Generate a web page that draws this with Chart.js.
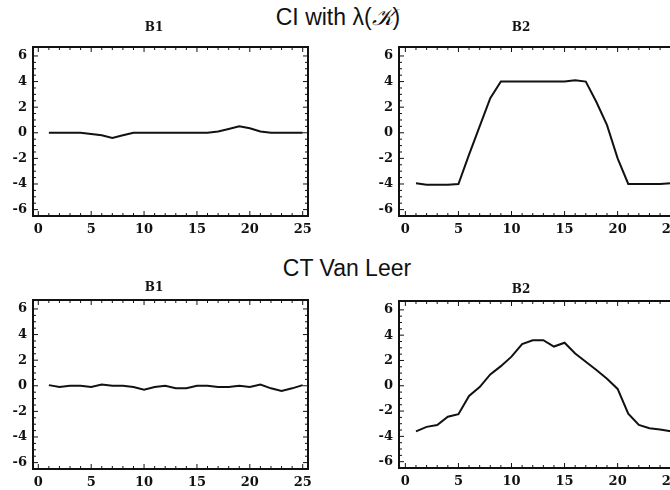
<!DOCTYPE html>
<html>
<head>
<meta charset="utf-8">
<script src="https://cdn.jsdelivr.net/npm/chart.js@4"></script>
<style>
  html, body { margin: 0; padding: 0; background: #fff; width: 670px; height: 490px; overflow: hidden; }
  canvas { position: absolute; }
  .head { position: absolute; transform: translateX(-50%); white-space: nowrap; line-height: 26px;
          font-family: "Liberation Sans", Arial, sans-serif; font-size: 23px; color: #111; }
</style>
</head>
<body>
<div class="head" style="left:338px; top:4px">CI with λ(<span style="font-family:'DejaVu Serif','Liberation Serif',serif;font-style:italic">𝒦</span>)</div>
<div class="head" style="left:347px; top:255px">CT Van Leer</div>

<canvas id="ciB1" width="334" height="220" style="left:0px; top:20px"></canvas>
<canvas id="ciB2" width="336" height="220" style="left:366px; top:20px"></canvas>
<canvas id="vlB1" width="334" height="216" style="left:0px; top:277px"></canvas>
<canvas id="vlB2" width="336" height="213" style="left:366px; top:279px"></canvas>

<script>
// cell index (x) for every sample
const cells = [1, 2, 3, 4, 5, 6, 7, 8, 9, 10, 11, 12, 13, 14, 15, 16, 17, 18, 19, 20, 21, 22, 23, 24, 25];

// CI with lambda(K)
const ciB1 = [0, 0, 0, 0, -0.1, -0.2, -0.4, -0.2, 0, 0, 0, 0, 0, 0, 0, 0, 0.1, 0.3, 0.5, 0.35, 0.1, 0, 0, 0, 0];
const ciB2 = [-3.95, -4.05, -4.05, -4.05, -4.0, -1.7, 0.5, 2.7, 4.0, 4.0, 4.0, 4.0, 4.0, 4.0, 4.0, 4.1, 4.0, 2.4, 0.6, -2.0, -4.0, -4.0, -4.0, -4.0, -3.95];

// CT Van Leer
const vlB1 = [0.05, -0.1, 0, 0, -0.1, 0.1, 0, 0, -0.1, -0.3, -0.1, 0, -0.2, -0.2, 0, 0, -0.1, -0.1, 0, -0.1, 0.1, -0.2, -0.4, -0.2, 0.05];
const vlB2 = [-3.6, -3.25, -3.1, -2.45, -2.25, -0.8, -0.1, 0.9, 1.55, 2.3, 3.3, 3.6, 3.6, 3.1, 3.4, 2.55, 1.9, 1.25, 0.55, -0.25, -2.2, -3.1, -3.35, -3.45, -3.6];

// axis ticks
const xTicks = [0, 5, 10, 15, 20, 25];
const yTicks = [-6, -4, -2, 0, 2, 4, 6];
const xMinor = [0, 1, 2, 3, 4, 5, 6, 7, 8, 9, 10, 11, 12, 13, 14, 15, 16, 17, 18, 19, 20, 21, 22, 23, 24, 25];
const yMinor = [-6, -5.5, -5, -4.5, -4, -3.5, -3, -2.5, -2, -1.5, -1, -0.5, 0, 0.5, 1, 1.5, 2, 2.5, 3, 3.5, 4, 4.5, 5, 5.5, 6];

const serif = "'DejaVu Serif', 'Liberation Serif', serif";
const tickFont = { family: serif, size: 13, weight: 'bold' };

// box frame with little inside tick marks, like the original plots
const framePlugin = {
  id: 'frame',
  afterDatasetsDraw(chart) {
    const { ctx, chartArea: a, scales: { x, y } } = chart;
    ctx.save();
    ctx.strokeStyle = '#111';
    ctx.lineWidth = 1;
    ctx.beginPath();
    xMinor.forEach(v => {
      const px = x.getPixelForValue(v);
      const len = xTicks.includes(v) ? 5 : 3;
      ctx.moveTo(px, a.bottom); ctx.lineTo(px, a.bottom - len);
      ctx.moveTo(px, a.top); ctx.lineTo(px, a.top + len);
    });
    yMinor.forEach(v => {
      const py = y.getPixelForValue(v);
      const len = yTicks.includes(v) ? 5 : 3;
      ctx.moveTo(a.left, py); ctx.lineTo(a.left + len, py);
      ctx.moveTo(a.right, py); ctx.lineTo(a.right - len, py);
    });
    ctx.stroke();
    ctx.lineWidth = 2;
    ctx.strokeRect(a.left, a.top, a.right - a.left, a.bottom - a.top);
    ctx.restore();
  }
};

function makePanel(id, title, values, xMin, titlePad) {
  return new Chart(document.getElementById(id), {
    type: 'line',
    data: {
      datasets: [{
        data: cells.map((c, i) => ({ x: c, y: values[i] })),
        borderColor: '#111',
        borderWidth: 2,
        pointRadius: 0,
        tension: 0
      }]
    },
    options: {
      responsive: false,
      animation: false,
      events: [],
      layout: { padding: { left: 0, right: 26, top: 0, bottom: 0 } },
      plugins: {
        legend: { display: false },
        tooltip: { enabled: false },
        title: {
          display: true,
          text: title,
          color: '#111',
          font: { family: serif, size: 12, weight: 'bold' },
          padding: titlePad
        }
      },
      scales: {
        x: {
          type: 'linear',
          min: xMin,
          max: 25.5,
          grid: { display: false, drawTicks: false },
          border: { display: false },
          ticks: { color: '#111', font: tickFont, padding: 6, maxRotation: 0 },
          afterBuildTicks: s => { s.ticks = xTicks.map(v => ({ value: v })); },
          afterFit: s => { s.height = 24; }
        },
        y: {
          min: -6.5,
          max: 6.7,
          grid: { display: false, drawTicks: false },
          border: { display: false },
          ticks: { color: '#111', font: tickFont, padding: 6 },
          afterBuildTicks: s => { s.ticks = yTicks.map(v => ({ value: v })); },
          afterFit: s => { s.width = 33; }
        }
      }
    },
    plugins: [framePlugin]
  });
}

makePanel('ciB1', 'B1', ciB1, -0.5, { top: 0.8, bottom: 11.8 });
makePanel('ciB2', 'B2', ciB2, -0.6, { top: 0.8, bottom: 11.8 });
makePanel('vlB1', 'B1', vlB1, -0.5, { top: 3.8, bottom: 4.8 });
makePanel('vlB2', 'B2', vlB2, -0.6, { top: 3.8, bottom: 3.8 });
</script>
</body>
</html>
